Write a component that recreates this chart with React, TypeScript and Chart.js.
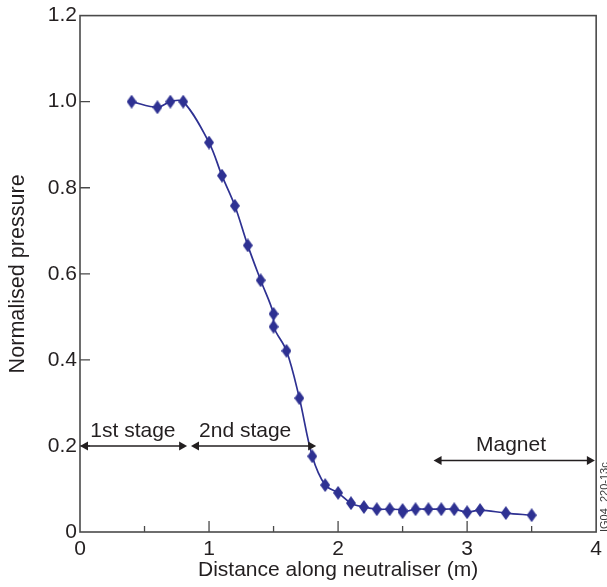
import React, { useEffect, useRef } from "react";
import { Chart, registerables } from "chart.js";

Chart.register(...registerables);

// Data
const distance = [0.4, 0.6, 0.7, 0.8, 1.0, 1.1, 1.2, 1.3, 1.4, 1.5, 1.5, 1.6, 1.7, 1.8, 1.9, 2.0, 2.1, 2.2, 2.3, 2.4, 2.5, 2.5, 2.6, 2.7, 2.8, 2.9, 3.0, 3.1, 3.3, 3.5];
const pressure = [1.0, 0.987, 1.0, 1.0, 0.905, 0.828, 0.758, 0.666, 0.585, 0.507, 0.477, 0.421, 0.311, 0.176, 0.109, 0.091, 0.067, 0.058, 0.053, 0.053, 0.051, 0.046, 0.053, 0.053, 0.053, 0.053, 0.046, 0.051, 0.044, 0.039];

// Axis ticks
const yTickValues = [0, 0.2, 0.4, 0.6, 0.8, 1.0, 1.2];
const yTickLabels = ["0", "0.2", "0.4", "0.6", "0.8", "1.0", "1.2"];
const xMajorTicks = [0, 1, 2, 3, 4];
const xMinorTicks = [0.5, 1.5, 2.5, 3.5];

// Annotation arrows
const arrowLabels = ["1st stage", "2nd stage", "Magnet"];
const arrowStart = [0, 0.86, 2.74];
const arrowEnd = [0.83, 1.83, 3.99];
const arrowY = [0.2, 0.2, 0.166];
const arrowLabelX = [0.41, 1.28, 3.34];

const figureId = "IG04_220-13c";

const BLUE = "#2e3192";
const AXIS = "#4a4a4a";
const TEXT = "#231f20";
const FONT = "'Liberation Sans', Arial, sans-serif";

function makeDiamond(): HTMLCanvasElement {
  const c = document.createElement("canvas");
  const w = 10, h = 14;
  c.width = w;
  c.height = h;
  const ctx = c.getContext("2d")!;
  ctx.fillStyle = BLUE;
  ctx.beginPath();
  ctx.moveTo(w / 2, 0);
  ctx.lineTo(w, h / 2);
  ctx.lineTo(w / 2, h);
  ctx.lineTo(0, h / 2);
  ctx.closePath();
  ctx.fill();
  return c;
}

const framePlugin = {
  id: "frameAndTicks",
  beforeDatasetsDraw(chart: any) {
    const { ctx, chartArea: a, scales } = chart;
    const xs = scales.x, ys = scales.y;
    ctx.save();
    ctx.strokeStyle = AXIS;
    ctx.lineWidth = 1.6;
    ctx.strokeRect(a.left, a.top, a.right - a.left, a.bottom - a.top);
    ctx.lineWidth = 1.3;
    ctx.beginPath();
    yTickValues.forEach((v) => {
      if (v === 0 || v === 1.2) return;
      const y = ys.getPixelForValue(v);
      ctx.moveTo(a.left, y);
      ctx.lineTo(a.left + 10, y);
    });
    xMajorTicks.forEach((v) => {
      if (v === 0 || v === 4) return;
      const x = xs.getPixelForValue(v);
      ctx.moveTo(x, a.bottom);
      ctx.lineTo(x, a.bottom - 11);
    });
    xMinorTicks.forEach((v) => {
      const x = xs.getPixelForValue(v);
      ctx.moveTo(x, a.bottom);
      ctx.lineTo(x, a.bottom - 6);
    });
    ctx.stroke();
    ctx.restore();
  },
  afterDatasetsDraw(chart: any) {
    const { ctx, scales } = chart;
    const xs = scales.x, ys = scales.y;
    ctx.save();
    ctx.strokeStyle = TEXT;
    ctx.fillStyle = TEXT;
    ctx.lineWidth = 1.5;
    const head = (x: number, y: number, dir: number) => {
      ctx.beginPath();
      ctx.moveTo(x, y);
      ctx.lineTo(x - dir * 8, y - 4.5);
      ctx.lineTo(x - dir * 8, y + 4.5);
      ctx.closePath();
      ctx.fill();
    };
    arrowLabels.forEach((label, i) => {
      const x1 = xs.getPixelForValue(arrowStart[i]);
      const x2 = xs.getPixelForValue(arrowEnd[i]);
      const y = ys.getPixelForValue(arrowY[i]);
      ctx.beginPath();
      ctx.moveTo(x1 + 4, y);
      ctx.lineTo(x2 - 4, y);
      ctx.stroke();
      head(x1, y, -1);
      head(x2, y, 1);
      ctx.font = `21px ${FONT}`;
      ctx.textAlign = "center";
      ctx.textBaseline = "middle";
      ctx.fillText(label, xs.getPixelForValue(arrowLabelX[i]), y - 15);
    });
    // figure id, rotated, on right edge
    ctx.translate(605, ys.getPixelForValue(0));
    ctx.rotate(-Math.PI / 2);
    ctx.font = `11px ${FONT}`;
    ctx.fillStyle = "#3a3a3a";
    ctx.textAlign = "left";
    ctx.textBaseline = "middle";
    ctx.fillText(figureId, 0, 0);
    ctx.restore();
  },
};

export default function App() {
  const ref = useRef<HTMLCanvasElement>(null);
  useEffect(() => {
    if (!ref.current) return;
    const diamond = makeDiamond();
    const chart = new Chart(ref.current, {
      type: "line",
      data: {
        datasets: [
          {
            data: distance.map((d, i) => ({ x: d, y: pressure[i] })),
            borderColor: BLUE,
            borderWidth: 1.7,
            backgroundColor: BLUE,
            pointStyle: diamond as any,
            pointRadius: 6,
            tension: 0.35,
            fill: false,
            clip: false as any,
          },
        ],
      },
      options: {
        responsive: false,
        animation: false,
        layout: { padding: { top: 13, right: 9, left: 0, bottom: 0 } },
        plugins: { legend: { display: false }, tooltip: { enabled: false } },
        scales: {
          x: {
            type: "linear",
            min: 0,
            max: 4,
            grid: { display: false, drawTicks: false },
            border: { display: false },
            afterBuildTicks: (s: any) => {
              s.ticks = xMajorTicks.map((v) => ({ value: v }));
            },
            afterFit: (s: any) => {
              s.height = 55;
            },
            ticks: {
              padding: 5,
              color: TEXT,
              font: { family: FONT, size: 21 },
              maxRotation: 0,
              autoSkip: false,
              callback: (v: any) => String(v),
            },
            title: {
              display: true,
              text: "Distance along neutraliser (m)",
              color: TEXT,
              font: { family: FONT, size: 21 },
              padding: { top: 0, bottom: 4 },
            },
          },
          y: {
            type: "linear",
            min: 0,
            max: 1.2,
            grid: { display: false, drawTicks: false },
            border: { display: false },
            afterBuildTicks: (s: any) => {
              s.ticks = yTickValues.map((v) => ({ value: v }));
            },
            afterFit: (s: any) => {
              s.width = 80;
            },
            ticks: {
              padding: 3,
              color: TEXT,
              font: { family: FONT, size: 21 },
              autoSkip: false,
              callback: (v: any) => {
                const idx = yTickValues.findIndex((t) => Math.abs(t - Number(v)) < 1e-6);
                return idx >= 0 ? yTickLabels[idx] : "";
              },
            },
            title: {
              display: true,
              text: "Normalised pressure",
              color: TEXT,
              font: { family: FONT, size: 21.6 },
              padding: { top: 5, bottom: 0 },
            },
          },
        },
      },
      plugins: [framePlugin],
    });
    return () => chart.destroy();
  }, []);
  return (
    <div style={{ position: "fixed", left: 0, top: 0, width: 607, height: 587, background: "#fff" }}>
      <canvas ref={ref} width={607} height={587} style={{ display: "block" }} />
    </div>
  );
}
